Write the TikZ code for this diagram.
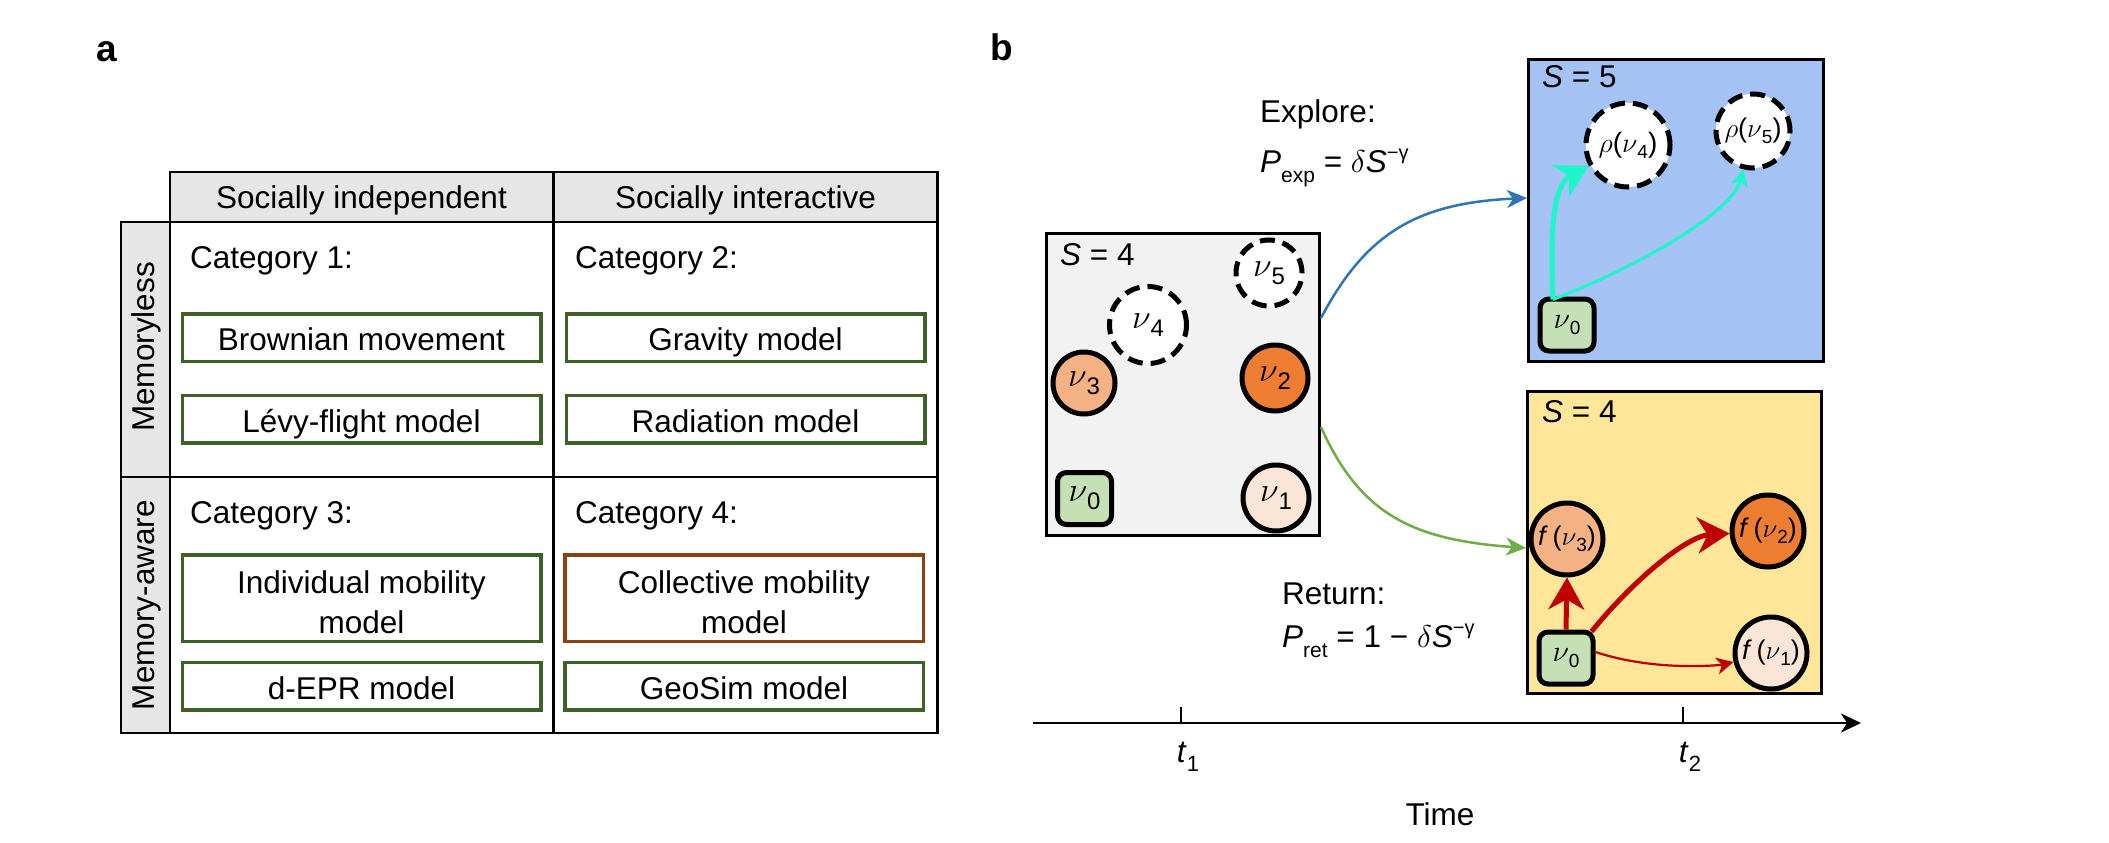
\RequirePackage{fix-cm}
\documentclass[tikz,border=0pt]{standalone}
\usepackage{fontspec}
\setmainfont{Liberation Sans}
\usetikzlibrary{arrows.meta}
\definecolor{hdrgray}{HTML}{E7E6E6}
\definecolor{boxgreen}{HTML}{3F6129}
\definecolor{boxbrown}{HTML}{8C4014}
\definecolor{panelgray}{HTML}{F2F2F2}
\definecolor{panelblue}{HTML}{A4C2F4}
\definecolor{panelyellow}{HTML}{FFE699}
\definecolor{homegreen}{HTML}{C5E0B4}
\definecolor{orangeA}{HTML}{F4B183}
\definecolor{orangeB}{HTML}{ED7D31}
\definecolor{orangeC}{HTML}{FBE5D6}
\definecolor{arrblue}{HTML}{2E75B6}
\definecolor{arrgreen}{HTML}{70AD47}
\definecolor{arrcyan}{HTML}{1EF5C8}
\definecolor{arrred}{HTML}{C00000}
\newcommand{\nuL}[1]{$\nu$\raisebox{-8pt}{\fontsize{24}{24}\selectfont #1}}
\newcommand{\nuM}[1]{$\nu$\raisebox{-6pt}{\fontsize{19}{19}\selectfont #1}}
\begin{document}
\begin{tikzpicture}[x=1pt,y=-1pt,
  txt/.style={inner sep=0pt, font=\fontsize{31.5}{37}\selectfont},
  tabline/.style={line width=2.5pt, black, line cap=rect},
  modelbox/.style={draw=boxgreen, line width=3.5pt, fill=white, minimum width=358.5pt, minimum height=47.5pt, inner sep=0pt, font=\fontsize{31.5}{37}\selectfont, text height=26pt, text depth=0pt},
  panel/.style={draw=black, line width=3pt, minimum width=#1, minimum height=302pt, inner sep=0pt},
  loc/.style={circle, draw=black, line width=5pt, inner sep=0pt, font=\fontsize{34}{34}\selectfont},
  dloc/.style={loc, fill=white, dash pattern=on 15pt off 8pt},
  mloc/.style={circle, draw=black, line width=5pt, inner sep=0pt, minimum size=72pt, font=\fontsize{27}{27}\selectfont},
  home/.style={rectangle, rounded corners=9pt, draw=black, line width=5pt, fill=homegreen, minimum width=54pt, minimum height=52pt, inner sep=0pt, font=\fontsize{34}{34}\selectfont},
  thinarr/.style={line width=2.2pt, -{Stealth[length=17pt,width=17pt,inset=5pt]}},
  thickarr/.style={line width=5pt, -{Stealth[length=32pt,width=36pt,inset=10pt]}},
  midarr/.style={line width=2.5pt, -{Stealth[length=20pt,width=18pt,inset=6pt]}},
]
\useasboundingbox (0,0) rectangle (2109,843);

% ---------------- panel a ----------------
\node[inner sep=0pt, font=\fontsize{37}{37}\selectfont\bfseries, anchor=base] (la) at (107,62) {a};
\node[inner sep=0pt, font=\fontsize{37}{37}\selectfont\bfseries, anchor=base] (lb) at (1002,60) {b};

\fill[hdrgray] (170,172) rectangle (937.5,222);
\fill[hdrgray] (121,222) rectangle (170,733);
\draw[tabline] (170,172) -- (937.5,172);
\draw[tabline] (121,222) -- (937.5,222);
\draw[tabline] (121,477) -- (937.5,477);
\draw[tabline] (121,733) -- (937.5,733);
\draw[tabline] (121,222) -- (121,733);
\draw[tabline] (170,172) -- (170,733);
\draw[tabline] (553.5,172) -- (553.5,733);
\draw[tabline] (937.5,172) -- (937.5,733);

\node[txt, anchor=base] (h1) at (361.5,208) {Socially independent};
\node[txt, anchor=base] (h2) at (745.5,208) {Socially interactive};
\node[txt, anchor=base, rotate=90] (r1) at (154,347) {Memoryless};
\node[txt, anchor=base, rotate=90] (r2) at (154,605) {Memory-aware};

\node[txt, anchor=base west] (c1) at (190,268) {Category 1:};
\node[txt, anchor=base west] (c2) at (575,268) {Category 2:};
\node[txt, anchor=base west] (c3) at (190,523) {Category 3:};
\node[txt, anchor=base west] (c4) at (575,523) {Category 4:};

\node[modelbox] (m1) at (361.5,337.5) {Brownian movement};
\node[modelbox] (m2) at (361.5,419) {Lévy-flight model};
\node[modelbox] (m3) at (745.5,337.5) {Gravity model};
\node[modelbox] (m4) at (745.5,419) {Radiation model};
\node[modelbox, minimum height=86.5pt] (m5) at (361.5,598) {};
\node[modelbox, draw=boxbrown, minimum height=86.5pt] (m6) at (744,598) {};
\node[txt, anchor=base] (m5a) at (361.5,593) {Individual mobility};
\node[txt, anchor=base] (m5b) at (361.5,633) {model};
\node[txt, anchor=base] (m6a) at (744,593) {Collective mobility};
\node[txt, anchor=base] (m6b) at (744,633) {model};
\node[modelbox] (m7) at (361.5,686) {d-EPR model};
\node[modelbox] (m8) at (744,686) {GeoSim model};

% ---------------- panel b ----------------
\node[panel=273pt, fill=panelgray] (gbox) at (1183,384.5) {};
\node[panel=295pt, fill=panelblue] (bbox) at (1676,210.5) {};
\node[panel=294pt, fill=panelyellow] (ybox) at (1674.5,542.5) {};

\node[txt, anchor=base west] (sg) at (1060,265) {\textit{S} = 4};
\node[txt, anchor=base west] (sb) at (1542,88) {\textit{S} = 5};
\node[txt, anchor=base west] (sy) at (1542,422) {\textit{S} = 4};

\node[dloc, minimum size=66pt] (g5) at (1269,273) {\nuL{5}};
\node[dloc, minimum size=77pt] (g4) at (1148,325) {\nuL{4}};
\node[loc, fill=orangeA, minimum size=62pt] (g3) at (1084,383) {\nuL{3}};
\node[loc, fill=orangeB, minimum size=66pt] (g2) at (1275,378) {\nuL{2}};
\node[loc, fill=orangeC, minimum size=66pt] (g1) at (1276,498) {\nuL{1}};
\node[home] (g0) at (1084.5,498.5) {\nuL{0}};

\node[dloc, minimum size=84pt, font=\fontsize{28}{28}\selectfont] (rho4) at (1628,145) {$\rho$(\nuM{4})};
\node[dloc, minimum size=74pt, font=\fontsize{27}{27}\selectfont] (rho5) at (1753,131) {$\rho$(\nuM{5})};
\node[home, font=\fontsize{30}{30}\selectfont] (nb0) at (1567,325) {\nuM{0}};

\node[mloc, fill=orangeA] (f3) at (1567,539) {\textit{f}\,(\nuM{3})};
\node[mloc, fill=orangeB] (f2) at (1768,531) {\textit{f}\,(\nuM{2})};
\node[mloc, fill=orangeC] (f1) at (1771,653) {\textit{f}\,(\nuM{1})};
\node[home, font=\fontsize{30}{30}\selectfont] (ny0) at (1566,658) {\nuM{0}};

\node[txt, anchor=base west] (explore) at (1260,122) {Explore:};
\node[txt, anchor=base west] (pexp) at (1260,172) {\textit{P}\raisebox{-10pt}{\fontsize{21}{21}\selectfont exp} = $\delta$\textit{S}\raisebox{13pt}{\fontsize{20}{20}\selectfont −γ}};
\node[txt, anchor=base west] (return) at (1282,604) {Return:};
\node[txt, anchor=base west] (pret) at (1282,647) {\textit{P}\raisebox{-10pt}{\fontsize{21}{21}\selectfont ret} = 1 − $\delta$\textit{S}\raisebox{13pt}{\fontsize{20}{20}\selectfont −γ}};

% transitions
\draw[midarr, arrblue] ([yshift=66.5pt]gbox.east) .. controls +(45,-85) and +(-110,5) .. ([yshift=12.5pt]bbox.west);
\draw[midarr, arrgreen] ([yshift=-42.5pt]gbox.east) .. controls +(40,90) and +(-110,-8) .. ([yshift=-5.5pt]ybox.west);

% explore moves
\coordinate (cs) at ([xshift=-14pt,yshift=-3pt]nb0.north);
\draw[thickarr, arrcyan] (cs) .. controls +(-3,-70) and +(-75,40) .. (rho4);
\draw[thinarr, line width=3pt, arrcyan] (cs) .. controls +(90,-35) and +(-20,80) .. (rho5);

% return moves
\draw[thickarr, arrred] (ny0.north) -- (f3.south);
\draw[thickarr, arrred] ([xshift=-4pt,yshift=-2pt]ny0.north east) .. controls +(45,-55) and +(-80,5) .. (f2);
\draw[thinarr, arrred] ([yshift=6pt]ny0.east) .. controls +(60,20) and +(-50,12) .. (f1);

% time axis
\coordinate (ax0) at (1033,723);
\coordinate (ax1) at (1861,723);
\draw[line width=2.5pt, -{Stealth[length=20pt,width=19pt,inset=6pt]}] (ax0) -- (ax1);
\coordinate (tk1) at (1181,707);
\coordinate (tk2) at (1683,707);
\draw[line width=2pt] (tk1) -- (tk1 |- ax0);
\draw[line width=2pt] (tk2) -- (tk2 |- ax0);
\node[txt, anchor=base] (t1) at (1188,762) {\textit{t}\raisebox{-9pt}{\fontsize{22}{22}\selectfont 1}};
\node[txt, anchor=base] (t2) at (1690,762) {\textit{t}\raisebox{-9pt}{\fontsize{22}{22}\selectfont 2}};
\node[txt, anchor=base] (time) at (1440,825) {Time};
\end{tikzpicture}
\end{document}
